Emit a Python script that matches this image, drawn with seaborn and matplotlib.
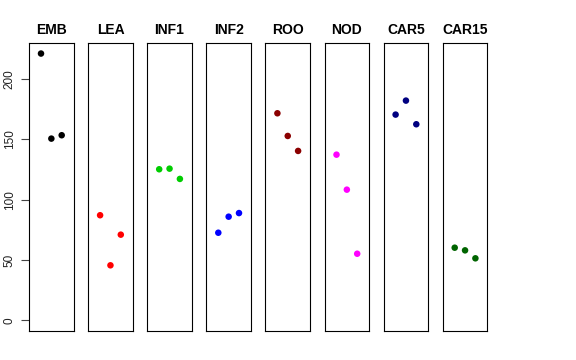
import matplotlib
matplotlib.use("Agg")
import matplotlib.pyplot as plt
import seaborn as sns
import pandas as pd

sns.set_style("white")
plt.rcParams['font.family'] = ['Liberation Sans', 'DejaVu Sans']

tissues = ["EMB", "LEA", "INF1", "INF2", "ROO", "NOD", "CAR5", "CAR15"]
colors = ["black", "red", "#00CD00", "blue", "#8B0000", "magenta", "#000080", "#006400"]
rep = [1, 2, 3]
emb = [221.1, 150.6, 153.4]
lea = [87.1, 45.6, 71.0]
inf1 = [125.2, 125.7, 117.2]
inf2 = [72.6, 85.9, 88.9]
roo = [171.6, 152.8, 140.4]
nod = [137.3, 108.3, 55.2]
car5 = [170.5, 182.1, 162.5]
car15 = [60.2, 58.0, 51.4]
values = [emb, lea, inf1, inf2, roo, nod, car5, car15]
yticks = [0, 50, 100, 150, 200]

fig = plt.figure(figsize=(5.76, 3.6), dpi=100)
W, H = 576, 360
left0, pitch, pw = 29, 59.1, 44.7
top, bottom = 43, 331
ymin, ymax = 0, 221
ypad = 0.04 * (ymax - ymin)
for i, (name, col, vals) in enumerate(zip(tissues, colors, values)):
    l = left0 + i * pitch
    ax = fig.add_axes([l / W, 1 - bottom / H, pw / W, (bottom - top) / H])
    df = pd.DataFrame({"rep": rep, "val": vals})
    sns.scatterplot(data=df, x="rep", y="val", ax=ax, color=col, s=22,
                    edgecolor="none", linewidth=0)
    ax.set_xlim(-0.16, 4.16)
    ax.set_ylim(ymin - ypad, ymax + ypad)
    ax.set_xticks([])
    ax.set_xlabel("")
    ax.set_ylabel("")
    for sp in ax.spines.values():
        sp.set_visible(True)
        sp.set_color("black")
        sp.set_linewidth(0.8)
    ax.set_title(name, fontsize=10, fontweight="bold", pad=6.5, color="black")
    if i == 0:
        ax.set_yticks(yticks)
        ax.set_yticklabels([str(t) for t in yticks], rotation=90, va="center",
                           fontsize=8.5, color="#222222")
        ax.tick_params(axis="y", left=True, length=5.5, width=0.8, pad=4, color="#444444")
    else:
        ax.set_yticks([])

fig.savefig("out.png", dpi=100)
